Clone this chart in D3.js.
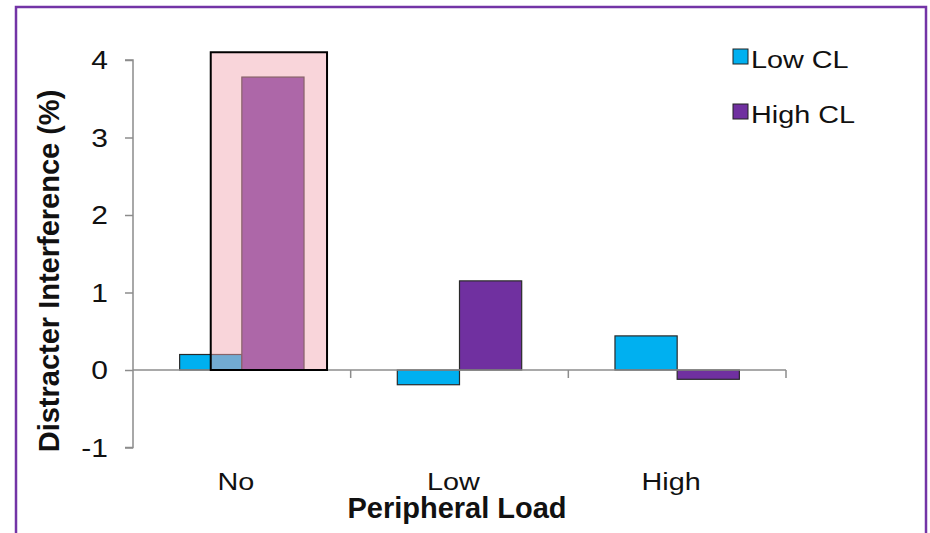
<!DOCTYPE html>
<html lang="en">
<head>
<meta charset="utf-8">
<script src="https://d3js.org/d3.v7.min.js"></script>
<style type="text/css">
body {
	margin: 0;
	background: #fff;
	font-family: "Liberation Sans", Arial, sans-serif;
}
.axis path, .axis line {
	stroke: #8c8c8c;
	stroke-width: 1.5;
}
</style>
</head>
<body>
<script type="text/javascript">

// Chart data
var categories = ["No", "Low", "High"];
var seriesNames = ["Low CL", "High CL"];
var lowCL = [0.2, -0.19, 0.44];
var highCL = [3.78, 1.15, -0.12];
var yTicks = [-1, 0, 1, 2, 3, 4];

var colors = ["#00b0f0", "#7030a0"];

// Highlight box drawn over the "No" group
var highlightTop = 4.1;

var width = 930;
var height = 533;

var svg = d3.select("body")
			.append("svg")
			.attr("width", width)
			.attr("height", height);

// Purple frame (bottom runs off the picture)
svg.append("rect")
   .attr("x", 16)
   .attr("y", 7)
   .attr("width", 910)
   .attr("height", 560)
   .style("fill", "none")
   .style("stroke", "#7334a6")
   .style("stroke-width", 2.5);

// Scales
var x = d3.scaleBand()
		  .domain(categories)
		  .range([133, 786]);

var xInner = d3.scaleBand()
			   .domain(seriesNames)
			   .range([0, x.bandwidth()])
			   .paddingInner(0)
			   .paddingOuter(0.75);

var y = d3.scaleLinear()
		  .domain([-1, 4])
		  .range([447.5, 60]);

// build rows from the arrays
var rows = categories.map(function(c, i) {
	return {category: c, values: [lowCL[i], highCL[i]]};
});

// Bars
var groups = svg.selectAll("g.group")
				.data(rows)
				.enter()
				.append("g")
				.attr("class", "group")
				.attr("transform", function(d) { return "translate(" + x(d.category) + ",0)"; });

groups.selectAll("rect")
	  .data(function(d) {
		return d.values.map(function(v, j) { return {series: seriesNames[j], value: v, idx: j}; });
	  })
	  .enter()
	  .append("rect")
	  .attr("x", function(d) { return xInner(d.series); })
	  .attr("y", function(d) { return y(Math.max(0, d.value)); })
	  .attr("width", xInner.bandwidth())
	  .attr("height", function(d) { return Math.abs(y(d.value) - y(0)); })
	  .style("fill", function(d) { return colors[d.idx]; })
	  .style("stroke", "#2a2a2a")
	  .style("stroke-width", 1.2);

// Y axis
var yAxis = d3.axisLeft(y)
			  .tickValues(yTicks)
			  .tickSize(8)
			  .tickFormat(d3.format("d"));

var gy = svg.append("g")
			.attr("class", "axis")
			.attr("transform", "translate(133,0)")
			.call(yAxis);
gy.select(".domain").attr("d", "M-8," + y(4) + "H0V" + y(-1) + "H-8");
gy.selectAll("text").remove();

// y tick labels, slightly stretched like the original
svg.selectAll("text.ytick")
   .data(yTicks)
   .enter()
   .append("text")
   .attr("class", "ytick")
   .attr("transform", function(d) { return "translate(108," + (y(d) + 9) + ") scale(1.2,1)"; })
   .attr("text-anchor", "end")
   .style("font-size", "25px")
   .style("fill", "#111")
   .text(function(d) { return d; });

// X axis at zero
var gx = svg.append("g")
			.attr("class", "axis");
gx.append("line")
  .attr("x1", 133)
  .attr("x2", 786)
  .attr("y1", y(0))
  .attr("y2", y(0));
gx.selectAll("line.tick")
  .data(categories.slice(1).concat(["end"]))
  .enter()
  .append("line")
  .attr("class", "tick")
  .attr("x1", function(d, i) { return x.range()[0] + x.step() * (i + 1); })
  .attr("x2", function(d, i) { return x.range()[0] + x.step() * (i + 1); })
  .attr("y1", y(0))
  .attr("y2", y(0) + 8);

// Category labels
svg.selectAll("text.xtick")
   .data(categories)
   .enter()
   .append("text")
   .attr("class", "xtick")
   .attr("transform", function(d) { return "translate(" + (x(d) + x.bandwidth() / 2 - 6) + ",490) scale(1.2,1)"; })
   .attr("text-anchor", "middle")
   .style("font-size", "24px")
   .style("fill", "#111")
   .text(function(d) { return d; });

// Highlight box on the "No" group
var hx0 = x("No") + xInner("Low CL") + xInner.bandwidth() / 2;
var hx1 = x("No") + xInner("High CL") + xInner.bandwidth() * 1.37;
svg.append("rect")
   .attr("x", hx0)
   .attr("y", y(highlightTop))
   .attr("width", hx1 - hx0)
   .attr("height", y(0) - y(highlightTop))
   .style("fill", "rgb(242,166,176)")
   .style("fill-opacity", 0.47)
   .style("stroke", "#000")
   .style("stroke-width", 2);

// Axis titles
svg.append("text")
   .attr("transform", "translate(59,271) rotate(-90)")
   .attr("text-anchor", "middle")
   .style("font-size", "29px")
   .style("font-weight", "bold")
   .style("fill", "#111")
   .text("Distracter Interference (%)");

svg.append("text")
   .attr("x", 457)
   .attr("y", 518)
   .attr("text-anchor", "middle")
   .style("font-size", "29px")
   .style("font-weight", "bold")
   .style("fill", "#111")
   .text("Peripheral Load");

// Legend
var legend = svg.selectAll("g.legend")
				.data(seriesNames)
				.enter()
				.append("g")
				.attr("class", "legend")
				.attr("transform", function(d, i) { return "translate(733," + (49 + i * 55) + ")"; });

legend.append("rect")
	  .attr("width", 15)
	  .attr("height", 15)
	  .style("fill", function(d, i) { return colors[i]; })
	  .style("stroke", "#222")
	  .style("stroke-width", 1);

legend.append("text")
	  .attr("transform", "translate(18,19) scale(1.2,1)")
	  .style("font-size", "24px")
	  .style("fill", "#111")
	  .text(function(d) { return d; });

</script>
</body>
</html>
